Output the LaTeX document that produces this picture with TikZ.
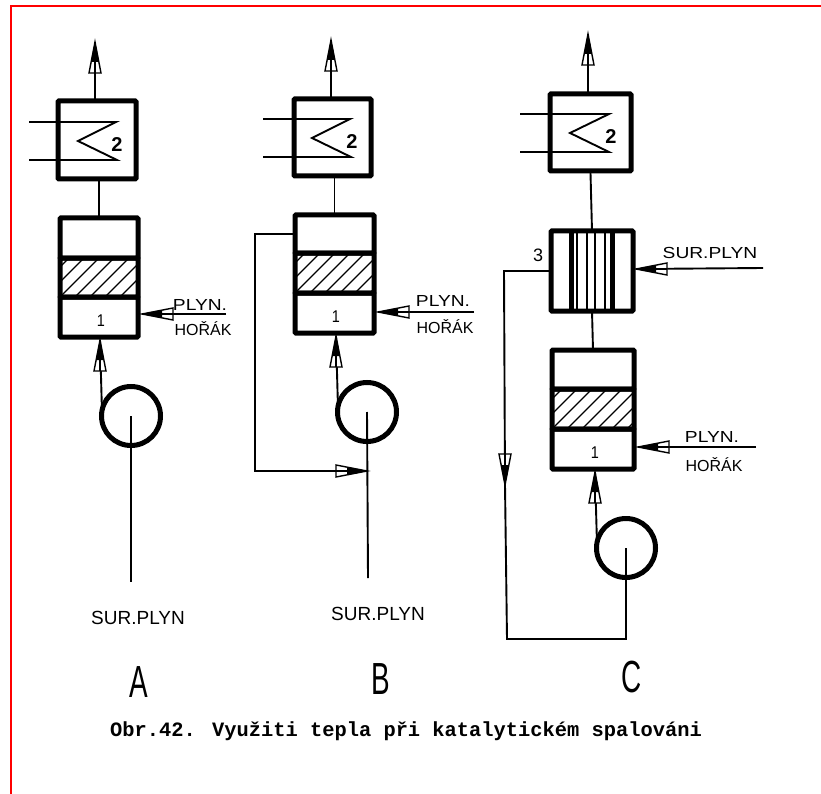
\documentclass[tikz,border=0pt]{standalone}
\usepackage{fontspec}
\setmainfont{Liberation Sans}
\newfontfamily\capfont{Liberation Mono}
\tikzset{
  x=1pt,y=-1pt,
  thin line/.style={line width=1.9pt},
  sect/.style={draw,line width=5pt,inner sep=0pt,outer sep=0pt,rectangle,rounded corners=1pt},
  hatched/.style={sect,path picture={
    \foreach \k in {-90,-75,...,120}{
      \draw[line width=1.2pt] ([xshift=\k pt]path picture bounding box.south west) -- ++(45pt,45pt);
    }}},
  blowerc/.style={draw,circle,line width=5pt,inner sep=0pt,outer sep=0pt,minimum size=59pt},
  lab/.style={inner sep=0pt,font=\fontsize{16}{16}\selectfont},
  widelab/.style={lab,xscale=1.2},
  tall lab/.style={inner sep=0pt,font=\fontsize{19}{19}\selectfont},
  num/.style={inner sep=0pt,font=\fontsize{20}{20}\selectfont\bfseries},
  onum/.style={inner sep=0pt,font=\fontsize{17}{17}\selectfont,xscale=.85},
  big/.style={inner sep=0pt,font=\fontsize{45}{45}\selectfont,xscale=.62},
  flowhead/.pic={
    \draw[line width=1.4pt,fill=white,line join=miter] (0,0) -- (-31,-6) -- (-31,6) -- cycle;
    \fill (0,0) -- (-20,-3.9) -- (-20,3.9) -- cycle;
    \draw[line width=1.6pt] (-31,0) -- (-18,0);
  }
}
\newcommand{\sectnode}[6][sect]{%
  \pgfmathsetmacro{\cx}{(#3+#5)/2}\pgfmathsetmacro{\cy}{(#4+#6)/2}%
  \pgfmathsetmacro{\ww}{#5-#3}\pgfmathsetmacro{\hh}{#6-#4}%
  \node[#1,minimum width=\ww pt,minimum height=\hh pt] (#2) at (\cx,\cy) {};}
\begin{document}
\begin{tikzpicture}
\useasboundingbox (0,0) rectangle (821,794);
\fill[white] (0,0) rectangle (821,794);
\draw[red,line width=2pt] (821,6) -- (11,6) -- (11,794);

% ---------- A
\sectnode{xA}{58}{101}{136}{179}
\sectnode{uA}{60}{218}{138}{258}
\sectnode[hatched]{hA}{60}{258}{138}{297}
\sectnode{lA}{60}{297}{138}{337}
\node[blowerc] (bA) at (131,416) {};
\coordinate (outA) at (95,42);
\coordinate (a1) at (29,122); \coordinate (a2) at (116,122); \coordinate (a3) at (78,141);
\coordinate (a4) at (117,160); \coordinate (a5) at (29,160);
\coordinate (burnA) at (226,314); \coordinate (tipbA) at (142,314);
\coordinate (tipuA) at (100,340); \coordinate (gasA) at (131,582);
\draw[thin line] (xA.north -| outA) -- (outA);
\draw[thin line] (uA.north) -- (uA.north |- xA.south);
\draw[thin line,line join=miter] (a1) -- (a2) -- (a3) -- (a4) -- (a5);
\draw[thin line] (burnA) -- (tipbA);
\draw[thin line] (bA.170) -- (tipuA);
\draw[thin line] (bA.center) -- (gasA);
\pic[rotate=90] at (outA) {flowhead};
\pic[rotate=180] at (tipbA) {flowhead};
\pic[rotate=90] at (tipuA) {flowhead};
\node[num] (n2A) at (117,145) {2};
\node[onum] (n1A) at (101,321) {1};
\node[widelab] (pA) at (200,305) {PLYN.};
\node[lab] (hA2) at (203,329) {HOŘÁK};
\node[tall lab] (sA) at (138,618) {SUR.PLYN};
\node[big] (tA) at (139,682) {A};

% ---------- B
\sectnode{xB}{294}{99}{371}{176}
\sectnode{uB}{295}{215}{374}{253}
\sectnode[hatched]{hB}{295}{253}{374}{293}
\sectnode{lB}{295}{293}{374}{333}
\node[blowerc] (bB) at (367,412) {};
\coordinate (outB) at (331,40);
\coordinate (b1) at (263,119); \coordinate (b2) at (350,119); \coordinate (b3) at (312,138);
\coordinate (b4) at (351,157); \coordinate (b5) at (263,157);
\coordinate (burnB) at (474,312); \coordinate (tipbB) at (378,312);
\coordinate (tipuB) at (336,336); \coordinate (gasB) at (368,578);
\coordinate (joinB) at (367,471); \coordinate (backB) at (255,234);
\draw[thin line] (xB.north -| outB) -- (outB);
\draw[thin line] (uB.north) -- (uB.north |- xB.south);
\draw[thin line,line join=miter] (b1) -- (b2) -- (b3) -- (b4) -- (b5);
\draw[thin line] (burnB) -- (tipbB);
\draw[thin line] (bB.170) -- (tipuB);
\draw[thin line] (bB.center) -- (gasB);
\draw[thin line] (uB.west) -- (backB) |- (joinB);
\pic[rotate=90] at (outB) {flowhead};
\pic[rotate=180] at (tipbB) {flowhead};
\pic[rotate=90] at (tipuB) {flowhead};
\pic[rotate=0] at (joinB) {flowhead};
\node[num] (n2B) at (352,142) {2};
\node[onum] (n1B) at (336,317) {1};
\node[widelab] (pB) at (443,301) {PLYN.};
\node[lab] (hB2) at (445,327) {HOŘÁK};
\node[tall lab] (sB) at (378,614) {SUR.PLYN};
\node[big] (tB) at (381,679) {B};

% ---------- C
\sectnode{xC}{550}{94}{631}{171}
\sectnode{rC}{551}{231}{633}{311}
\sectnode{uC}{552}{350}{634}{389}
\sectnode[hatched]{hC}{552}{389}{634}{429}
\sectnode{lC}{552}{429}{634}{469}
\node[blowerc] (bC) at (626,548) {};
\coordinate (outC) at (588,34);
\coordinate (c1) at (520,114); \coordinate (c2) at (609,114); \coordinate (c3) at (570,133);
\coordinate (c4) at (609,152); \coordinate (c5) at (520,152);
\coordinate (burnC) at (756,447); \coordinate (tipbC) at (638,447);
\coordinate (tipuC) at (595,472);
\coordinate (feedC) at (763,268); \coordinate (tipfC) at (636,269);
\coordinate (cornC) at (504,271); \coordinate (downC) at (505,485); \coordinate (botC) at (507,639);
\draw[thin line] (xC.north -| outC) -- (outC);
\draw[thin line] (xC.south) ++(0,2) -- (rC.north);
\draw[thin line] (rC.south) -- (uC.north);
\draw[thin line,line join=miter] (c1) -- (c2) -- (c3) -- (c4) -- (c5);
\foreach \vx in {577,587,595,605}{\draw[line width=1.2pt] (\vx,231) -- (\vx,311);}
\draw[line width=5pt] (571,231) -- (571,311);
\draw[line width=5pt] (612,231) -- (612,311);
\draw[thin line] (burnC) -- (tipbC);
\draw[thin line] (feedC) -- (tipfC);
\draw[thin line] (bC.170) -- (tipuC);
\draw[thin line] (rC.west) -- (cornC) -- (downC) -- (botC) -| (bC.center);
\pic[rotate=90] at (outC) {flowhead};
\pic[rotate=180] at (tipbC) {flowhead};
\pic[rotate=90] at (tipuC) {flowhead};
\pic[rotate=180] at (tipfC) {flowhead};
\pic[rotate=-90] at (downC) {flowhead};
\node[num] (n2C) at (611,137) {2};
\node[num,font=\fontsize{18}{18}\selectfont] (n3C) at (538,255) {3};
\node[onum] (n1C) at (595,453) {1};
\node[widelab] (pC) at (712,437) {PLYN.};
\node[lab] (hC2) at (714,465) {HOŘÁK};
\node[widelab] (sC) at (710,253) {SUR.PLYN};
\node[big] (tC) at (632,677) {C};

\node[inner sep=0pt,font=\capfont\bfseries\fontsize{20.4}{20.4}\selectfont] (cap) at (406,731) {Obr.42. Využiti tepla při katalytickém spalováni};
\end{tikzpicture}
\end{document}
